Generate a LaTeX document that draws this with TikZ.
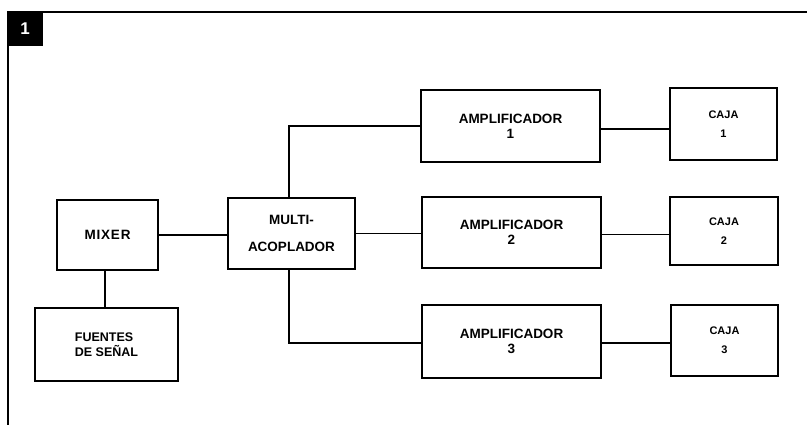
\documentclass[tikz,border=0pt]{standalone}
\usepackage{fontspec}
\setmainfont{Liberation Sans}
\newfontfamily\spacedfont[LetterSpace=6]{Liberation Sans}
\begin{document}
\begin{tikzpicture}[x=1pt,y=-1pt,
  box/.style={draw, line width=2.3pt, rectangle, inner sep=0pt, align=center,
    font=\bfseries\fontsize{13.5}{15}\selectfont},
  cajabox/.style={box, font=\bfseries\fontsize{11}{19}\selectfont},
  conn/.style={line width=1.3pt},
  frame/.style={line width=2pt}]
\useasboundingbox (0,0) rectangle (807,425);
% frame
\draw[frame] (8,425) -- (8,12) -- (807,12);
\fill[black] (7,12) rectangle (43,46);
\node[text=white, font=\bfseries\fontsize{17}{17}\selectfont] (num) at (25,29) {1};
% boxes
\node[box, minimum width=101pt, minimum height=70pt, font=\spacedfont\bfseries\fontsize{13.5}{15}\selectfont] (mixer) at (107.5,235) {MIXER};
\node[box, minimum width=143pt, minimum height=73pt, align=left, font=\bfseries\fontsize{12.5}{15}\selectfont] (fuentes) at (106.5,344.5) {FUENTES\\DE SEÑAL};
\node[box, minimum width=127pt, minimum height=71pt, font=\bfseries\fontsize{13.5}{27}\selectfont] (multi) at (291.5,233.5) {MULTI-\\ACOPLADOR};
\node[box, minimum width=179pt, minimum height=72pt] (amp1) at (510.5,126) {AMPLIFICADOR\\1};
\node[box, minimum width=179pt, minimum height=71pt] (amp2) at (511.5,232.5) {AMPLIFICADOR\\2};
\node[box, minimum width=179pt, minimum height=73pt] (amp3) at (511.5,341.5) {AMPLIFICADOR\\3};
\node[cajabox, minimum width=107pt, minimum height=72pt] (caja1) at (723.5,124) {CAJA\\1};
\node[cajabox, minimum width=108pt, minimum height=68pt] (caja2) at (724,231) {CAJA\\2};
\node[cajabox, minimum width=107pt, minimum height=71pt] (caja3) at (724.5,340.5) {CAJA\\3};
% connectors
\draw[conn] (mixer.east) -- (mixer.east -| multi.west);
\draw[conn] ([xshift=-2.5pt]mixer.south) -- ([xshift=-2.5pt]mixer.south |- fuentes.north);
\draw[conn] ([xshift=-2.5pt]multi.north) |- (amp1.west);
\draw[conn] (multi.east) -- (multi.east -| amp2.west);
\draw[conn] ([xshift=-2.5pt]multi.south) |- ([yshift=-1.5pt]amp3.west);
\draw[conn] ([yshift=-3pt]amp1.east) -- ([yshift=-3pt]amp1.east -| caja1.west);
\draw[conn] ([yshift=-2pt]amp2.east) -- ([yshift=-2pt]amp2.east -| caja2.west);
\draw[conn] ([yshift=-1.5pt]amp3.east) -- ([yshift=-1.5pt]amp3.east -| caja3.west);
\end{tikzpicture}
\end{document}
